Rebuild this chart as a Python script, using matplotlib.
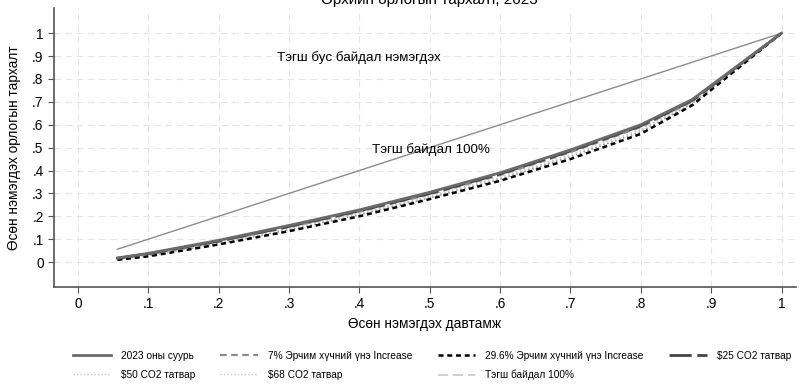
import matplotlib.pyplot as plt
from matplotlib.lines import Line2D

plt.rcParams['font.family'] = ['Liberation Sans', 'DejaVu Sans']

# cumulative population share
pop_share = [0.056, 0.1, 0.2, 0.3, 0.4, 0.5, 0.6, 0.7, 0.8, 0.873, 1.0]

# cumulative income share per scenario
base_2023 = [0.018, 0.038, 0.095, 0.160, 0.228, 0.305, 0.390, 0.490, 0.600, 0.710, 1.0]
energy_7 = [0.016, 0.035, 0.090, 0.153, 0.220, 0.296, 0.380, 0.480, 0.590, 0.702, 1.0]
energy_296 = [0.010, 0.025, 0.077, 0.135, 0.200, 0.275, 0.355, 0.450, 0.560, 0.685, 1.0]
co2_25 = [0.017, 0.036, 0.092, 0.156, 0.224, 0.300, 0.385, 0.485, 0.595, 0.706, 1.0]
co2_50 = [0.014, 0.031, 0.085, 0.147, 0.213, 0.288, 0.370, 0.468, 0.578, 0.697, 1.0]
co2_68 = [0.012, 0.028, 0.081, 0.141, 0.207, 0.281, 0.362, 0.460, 0.570, 0.692, 1.0]
equality = pop_share[:1] + pop_share[-1:]

labels = ['2023 оны суурь', '7% Эрчим хүчний үнэ Increase',
          '29.6% Эрчим хүчний үнэ Increase', '$25 CO2 татвар',
          '$50 CO2 татвар', '$68 CO2 татвар', 'Тэгш байдал 100%']
ticks = [0, 0.1, 0.2, 0.3, 0.4, 0.5, 0.6, 0.7, 0.8, 0.9, 1.0]
tick_labels = ['0', '.1', '.2', '.3', '.4', '.5', '.6', '.7', '.8', '.9', '1']

fig = plt.figure(figsize=(8, 3.9), dpi=100)
ax = fig.add_axes([0.0675, 0.264, 0.927, 0.715])

ax.grid(True, color='#e6e6e6', linestyle=(0, (6, 4)), linewidth=0.8)
ax.set_axisbelow(True)

ax.plot(equality, equality, color='#8c8c8c', lw=1.0)
ax.plot(pop_share, co2_68, color='#9a9a9a', lw=1.2, ls=(0, (1, 1.5)))
ax.plot(pop_share, co2_50, color='#c8c8c8', lw=1.2, ls=(0, (1, 1.5)))
ax.plot(pop_share, energy_296, color='black', lw=1.8, ls=(0, (2, 1.5)))
ax.plot(pop_share, energy_7, color='#8a8a8a', lw=1.6, ls=(0, (3, 2)))
ax.plot(pop_share, co2_25, color='#444444', lw=2.0, ls=(0, (8, 2)))
ax.plot(pop_share, base_2023, color='#6a6a6a', lw=2.0)

ax.text(0.4, 0.895, 'Тэгш бус байдал нэмэгдэх', ha='center', va='center', fontsize=9.6)
ax.text(0.502, 0.493, 'Тэгш байдал 100%', ha='center', va='center', fontsize=9.6)

ax.set_xlim(-0.034, 1.02)
ax.set_ylim(-0.109, 1.109)
ax.set_xticks(ticks)
ax.set_xticklabels(tick_labels)
ax.set_yticks(ticks)
ax.set_yticklabels(tick_labels)
ax.tick_params(colors='#555555', labelcolor='black', labelsize=9.8, length=4)
for side in ['top', 'right']:
    ax.spines[side].set_visible(False)
for side in ['left', 'bottom']:
    ax.spines[side].set_color('#555555')
    ax.spines[side].set_linewidth(1.2)

ax.set_xlabel('Өсөн нэмэгдэх давтамж', fontsize=9.8, labelpad=4)
ax.set_ylabel('Өсөн нэмэгдэх орлогын тархалт', fontsize=9.8, labelpad=8)
fig.text(0.537, 1.0, 'Өрхийн орлогын тархалт, 2023', ha='center', va='center', fontsize=11)

handles = [
    Line2D([], [], color='#6a6a6a', lw=2.0),
    Line2D([], [], color='#8a8a8a', lw=1.6, ls=(0, (3, 2))),
    Line2D([], [], color='black', lw=1.8, ls=(0, (2, 1.5))),
    Line2D([], [], color='#444444', lw=2.0, ls=(0, (8, 2))),
    Line2D([], [], color='#c8c8c8', lw=1.0, ls=(0, (1, 1.5))),
    Line2D([], [], color='#c8c8c8', lw=1.0, ls=(0, (1, 1.5))),
    Line2D([], [], color='#c8c8c8', lw=1.2, ls=(0, (6, 3))),
]
# legend fills column by column, so interleave to read row by row
order = [0, 4, 1, 5, 2, 6, 3]
fig.legend([handles[i] for i in order], [labels[i] for i in order],
           ncol=4, loc='center', bbox_to_anchor=(0.54, 0.063),
           frameon=False, fontsize=7.3, handlelength=3.7, columnspacing=2.5,
           handletextpad=1.0, labelspacing=0.9)

fig.savefig('out.png', dpi=100)
